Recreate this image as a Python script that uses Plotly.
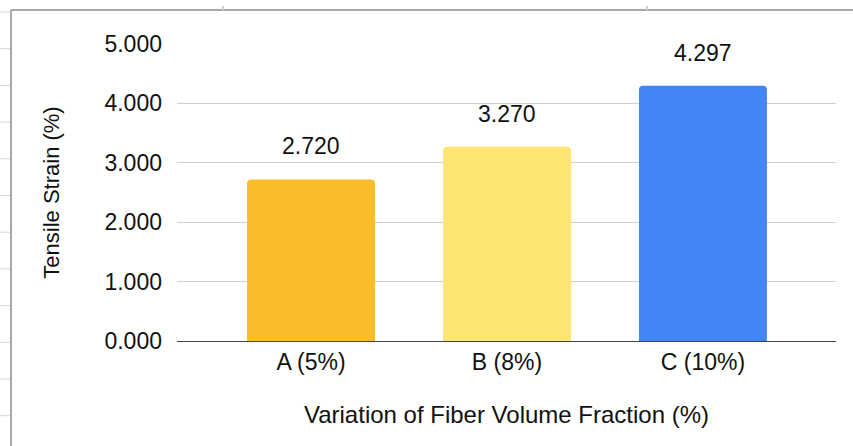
import plotly.graph_objects as go

categories = ["A (5%)", "B (8%)", "C (10%)"]
strain = [2.720, 3.270, 4.297]
bar_colors = ["#FBBC2C", "#FEE572", "#4285F4"]
y_ticks = [0, 1, 2, 3, 4, 5]
y_tick_labels = [f"{v:.3f}" for v in y_ticks]

W, H = 853, 446
L, R, T, B = 177, 17, 44, 105
pw, ph = W - L - R, H - T - B
FONT = "Liberation Sans, Arial"
TXT = "#111111"

def px_x(px):
    return (px - L) / pw

def px_y(py):
    return (H - B - py) / ph

fig = go.Figure()
fig.add_trace(go.Bar(
    x=categories, y=strain, marker=dict(color=bar_colors, line=dict(width=0)),
    width=0.653, hoverinfo="skip",
))

for c, v in zip(categories, strain):
    fig.add_annotation(x=c, y=v, text=f"{v:.3f}", showarrow=False,
                       yanchor="bottom", yshift=18,
                       font=dict(size=23, color=TXT, family=FONT))

# spreadsheet frame decoration
shapes = []
shapes.append(dict(type="line", xref="paper", yref="paper",
                   x0=px_x(11), x1=px_x(11), y0=px_y(10), y1=px_y(446),
                   line=dict(color="#a8a8a8", width=2)))
shapes.append(dict(type="line", xref="paper", yref="paper",
                   x0=px_x(11), x1=px_x(853), y0=px_y(10), y1=px_y(10),
                   line=dict(color="#a8a8a8", width=2)))
for i in range(12):
    yy = 12 + i * 36.7
    shapes.append(dict(type="line", xref="paper", yref="paper",
                       x0=px_x(0), x1=px_x(10), y0=px_y(yy), y1=px_y(yy),
                       line=dict(color="#d6d6d6", width=1)))
for xx in (223, 647):
    shapes.append(dict(type="line", xref="paper", yref="paper",
                       x0=px_x(xx), x1=px_x(xx), y0=px_y(6), y1=px_y(10),
                       line=dict(color="#d0d0d0", width=2)))

fig.update_layout(
    width=W, height=H,
    margin=dict(l=L, r=R, t=T, b=B, pad=0),
    paper_bgcolor="white", plot_bgcolor="white",
    showlegend=False,
    barcornerradius=4,
    font=dict(family=FONT, size=23, color=TXT),
    shapes=shapes,
    xaxis=dict(
        range=[-0.684, 2.679], showgrid=False, showline=True,
        linecolor="#444444", linewidth=1, ticks="",
        tickfont=dict(size=23, color=TXT),
        title=dict(text="Variation of Fiber Volume Fraction (%)",
                   font=dict(size=24, color=TXT), standoff=32),
    ),
    yaxis=dict(
        range=[0, 5], tickvals=y_ticks, ticktext=y_tick_labels,
        showgrid=True, gridcolor="#cfcfcf", gridwidth=1,
        zeroline=False, showline=False, ticks="",
        ticklabelstandoff=14,
        tickfont=dict(size=23, color=TXT),
        title=dict(text="Tensile Strain (%)",
                   font=dict(size=22, color=TXT), standoff=38),
    ),
)

fig.write_html("out.html", config={"displayModeBar": False},
               post_script="document.body.style.margin='0';")
